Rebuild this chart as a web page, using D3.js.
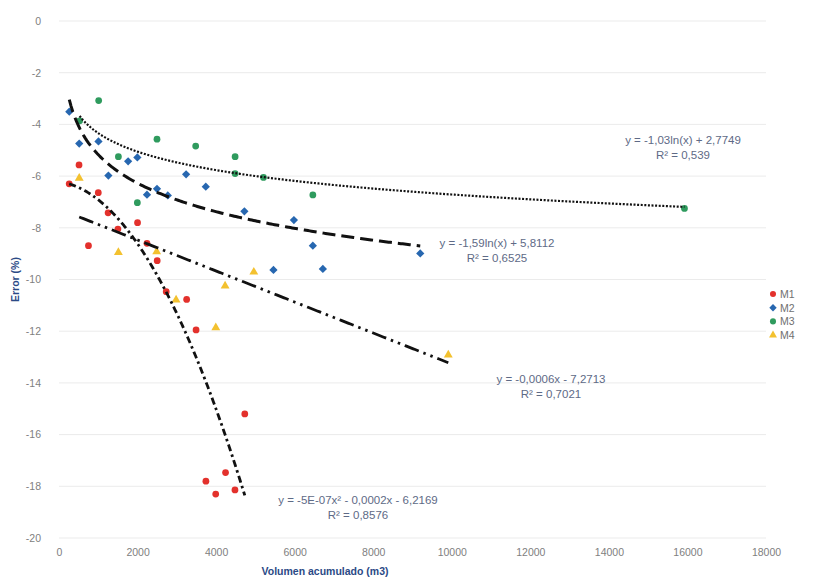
<!DOCTYPE html>
<html>
<head>
<meta charset="utf-8">
<script src="https://cdn.jsdelivr.net/npm/d3@7"></script>
<style>
  html, body { margin: 0; padding: 0; background: #fff; }
  svg { display: block; font-family: "Liberation Sans", Arial, sans-serif; }
</style>
</head>
<body>
<svg id="chart" width="825" height="581"></svg>
<script>
// Accumulated volume (m3) vs. error (%) for four meters
const seriesNames = ["M1", "M2", "M3", "M4"];
const seriesColors = ["#e3312c", "#2767b0", "#2f9b5e", "#f3c12f"];

const m1X = [260, 510, 750, 1000, 1250, 1500, 2000, 2240, 2500, 2730, 3250, 3490, 3740, 3990, 4240, 4480, 4730];
const m1Y = [-6.3, -5.57, -8.69, -6.64, -7.42, -8.05, -7.8, -8.6, -9.27, -10.47, -10.77, -11.95, -17.8, -18.3, -17.47, -18.14, -15.2];

const m2X = [262, 515, 1005, 1257, 1760, 1995, 2240, 2495, 2770, 3236, 3737, 4720, 5460, 5980, 6463, 6718, 9197];
const m2Y = [-3.51, -4.74, -4.66, -5.98, -5.43, -5.28, -6.72, -6.49, -6.75, -5.93, -6.41, -7.36, -9.63, -7.7, -8.69, -9.59, -8.99];

const m3X = [525, 1010, 1512, 1995, 2495, 3480, 4484, 4484, 5206, 6463, 15924];
const m3Y = [-3.86, -3.08, -5.25, -7.03, -4.57, -4.84, -5.25, -5.9, -6.05, -6.73, -7.25];

const m4X = [515, 1512, 2487, 2981, 3992, 4229, 4960, 9911];
const m4Y = [-6.08, -8.95, -8.92, -10.79, -11.86, -10.25, -9.71, -12.92];

const xTicks = [0, 2000, 4000, 6000, 8000, 10000, 12000, 14000, 16000, 18000];
const yTicks = [0, -2, -4, -6, -8, -10, -12, -14, -16, -18, -20];

// Trendline equations with their labels
const trendLabels = [
  ["y = -5E-07x² - 0,0002x - 6,2169", "R² = 0,8576"],
  ["y = -1,59ln(x) + 5,8112", "R² = 0,6525"],
  ["y = -1,03ln(x) + 2,7749", "R² = 0,539"],
  ["y = -0,0006x - 7,2713", "R² = 0,7021"]
];
const trendFns = [
  x => -5e-7 * x * x - 0.0002 * x - 6.2169,
  x => -1.59 * Math.log(x) + 5.8112,
  x => -1.03 * Math.log(x) + 2.7749,
  x => -0.0006 * x - 7.2713
];

// A square turned 45 degrees, for the diamond markers
const symbolRhomb = {
  draw(ctx, size) {
    const r = Math.sqrt(size / 2);
    ctx.moveTo(0, -r); ctx.lineTo(r, 0); ctx.lineTo(0, r); ctx.lineTo(-r, 0); ctx.closePath();
  }
};

const series = [
  { xs: m1X, ys: m1Y, symbol: d3.symbolCircle, size: 36 },
  { xs: m2X, ys: m2Y, symbol: symbolRhomb, size: 34 },
  { xs: m3X, ys: m3Y, symbol: d3.symbolCircle, size: 36 },
  { xs: m4X, ys: m4Y, symbol: d3.symbolTriangle, size: 34 }
];

const svg = d3.select("#chart");
const x = d3.scaleLinear().domain([0, 18000]).range([59, 766]);
const y = d3.scaleLinear().domain([-20, 0]).range([538, 21]);

// Horizontal gridlines
svg.append("g")
  .selectAll("line")
  .data(yTicks)
  .join("line")
  .attr("x1", x(0)).attr("x2", x(18000))
  .attr("y1", d => y(d)).attr("y2", d => y(d))
  .attr("stroke", "#ebebeb").attr("stroke-width", 1);

// Axes (labels only, no domain line)
const fmt = d => String(d);
const yAxis = svg.append("g")
  .attr("transform", `translate(${x(0)},0)`)
  .call(d3.axisLeft(y).tickValues(yTicks).tickFormat(fmt).tickSize(0).tickPadding(18));
const xAxis = svg.append("g")
  .attr("transform", `translate(0,${y(-20)})`)
  .call(d3.axisBottom(x).tickValues(xTicks).tickFormat(fmt).tickSize(0).tickPadding(11));
[yAxis, xAxis].forEach(g => {
  g.select(".domain").remove();
  g.selectAll("text").attr("fill", "#808080").attr("font-size", 10.5);
});

// Axis titles
svg.append("text")
  .attr("transform", `translate(19,${y(-10)}) rotate(-90)`)
  .attr("text-anchor", "middle")
  .attr("font-size", 10.5).attr("font-weight", "bold").attr("fill", "#2b4a86")
  .text("Error (%)");
svg.append("text")
  .attr("x", 325).attr("y", 575)
  .attr("text-anchor", "middle")
  .attr("font-size", 10.5).attr("font-weight", "bold").attr("fill", "#2b4a86")
  .text("Volumen acumulado (m3)");

// Data markers
series.forEach((s, i) => {
  svg.append("g")
    .selectAll("path")
    .data(s.xs.map((v, k) => [v, s.ys[k]]))
    .join("path")
    .attr("transform", d => `translate(${x(d[0])},${y(d[1])})`)
    .attr("d", d3.symbol().type(s.symbol).size(s.size))
    .attr("fill", seriesColors[i]);
});

// Trendlines over each series' x range
const dashes = ["7,3.5,2.5,3.5", "13,6", "2,1.6", "15,5,2.5,5,2.5,5"];
const widths = [2.8, 3, 2.2, 2.8];
const line = d3.line().x(d => x(d[0])).y(d => y(d[1]));
series.forEach((s, i) => {
  const [lo, hi] = d3.extent(s.xs);
  const pts = d3.range(0, 201).map(k => {
    const xv = lo + (hi - lo) * k / 200;
    return [xv, trendFns[i](xv)];
  });
  svg.append("path")
    .datum(pts)
    .attr("d", line)
    .attr("fill", "none")
    .attr("stroke", "#111")
    .attr("stroke-width", widths[i])
    .attr("stroke-dasharray", dashes[i]);
});

// Trendline equation labels
const labelPos = [[358, 504], [497, 247], [683, 144], [551, 383]];
trendLabels.forEach((lab, i) => {
  const t = svg.append("text")
    .attr("x", labelPos[i][0]).attr("y", labelPos[i][1])
    .attr("text-anchor", "middle")
    .attr("font-size", 11.5).attr("fill", "#5e6a86");
  t.append("tspan").attr("x", labelPos[i][0]).text(lab[0]);
  t.append("tspan").attr("x", labelPos[i][0]).attr("dy", 14.5).text(lab[1]);
});

// Legend
const legend = svg.append("g");
seriesNames.forEach((name, i) => {
  const ly = 294 + i * 13.7;
  legend.append("path")
    .attr("transform", `translate(773,${ly})`)
    .attr("d", d3.symbol().type(series[i].symbol).size(series[i].size * 0.8))
    .attr("fill", seriesColors[i]);
  legend.append("text")
    .attr("x", 780).attr("y", ly + 3.8)
    .attr("font-size", 10.5).attr("fill", "#707070")
    .text(name);
});
</script>
</body>
</html>
